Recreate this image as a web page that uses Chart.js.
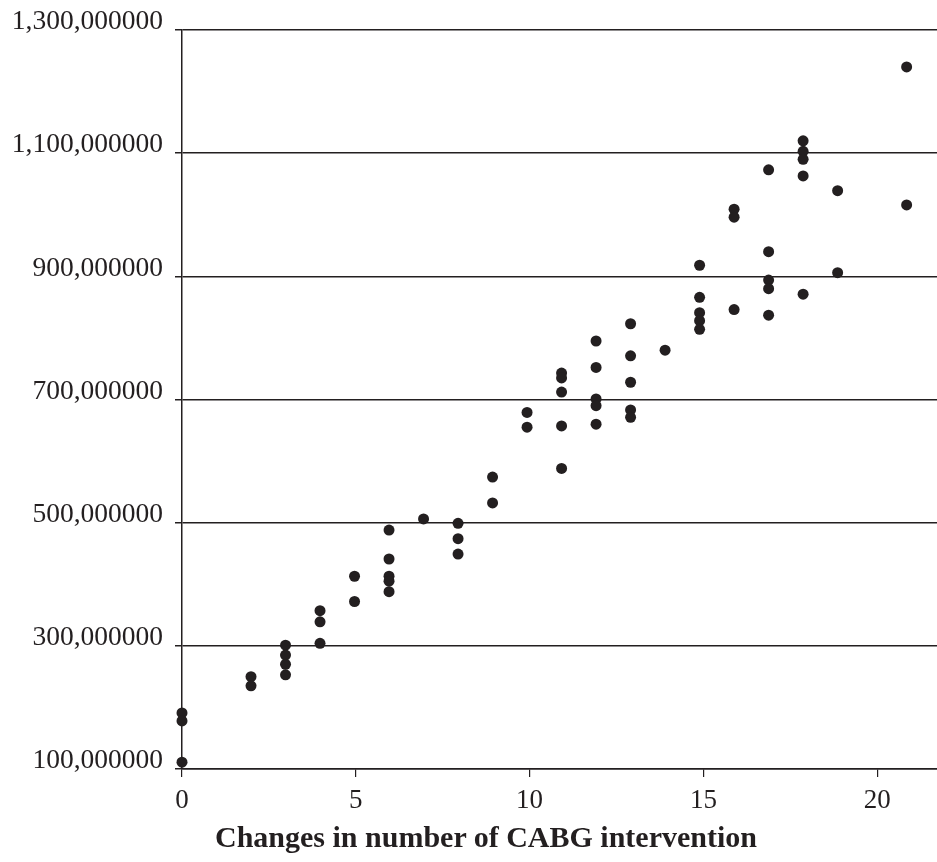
<!DOCTYPE html>
<html>
<head>
<meta charset="utf-8">
<script src="https://cdn.jsdelivr.net/npm/chart.js@4.4.0/dist/chart.umd.min.js"></script>
<style>
  html, body { margin: 0; padding: 0; background: #ffffff; overflow: hidden; }
  #wrap { position: relative; width: 937px; height: 862px; }
  #c { display: block; }
  #xtitle { position: absolute; left: 0; width: 972px; top: 820px; text-align: center;
    font-family: "Liberation Serif", "DejaVu Serif", serif; font-weight: bold; font-size: 30px; color: #231f20; white-space: nowrap; }
</style>
</head>
<body>
<div id="wrap">
  <canvas id="c" width="937" height="862"></canvas>
  <div id="xtitle">Changes in number of CABG intervention</div>
</div>
<script>
// Changes in number of CABG interventions (x) and cost (y)
const xChanges = [
  0, 0, 0,
  2, 2,
  3, 3, 3, 3,
  4, 4, 4,
  5, 5,
  6, 6, 6, 6, 6,
  7,
  8, 8, 8,
  9, 9,
  10, 10,
  11, 11, 11, 11, 11,
  12, 12, 12, 12, 12,
  13, 13, 13, 13, 13,
  14,
  15, 15, 15, 15, 15,
  16, 16, 16,
  17, 17, 17, 17, 17,
  18, 18, 18, 18, 18,
  19, 19,
  21, 21
];
const yCost = [
  191e6, 178e6, 111e6,
  250e6, 235e6,
  301e6, 285e6, 270e6, 253e6,
  357e6, 339e6, 304e6,
  413e6, 372e6,
  488e6, 441e6, 413e6, 405e6, 388e6,
  506e6,
  499e6, 474e6, 449e6,
  574e6, 532e6,
  679e6, 655e6,
  743e6, 735e6, 712e6, 657e6, 588e6,
  795e6, 752e6, 701e6, 690e6, 660e6,
  823e6, 771e6, 728e6, 683e6, 671e6,
  780e6,
  918e6, 866e6, 841e6, 828e6, 814e6,
  1009e6, 996e6, 846e6,
  1073e6, 940e6, 894e6, 880e6, 837e6,
  1120e6, 1103e6, 1090e6, 1063e6, 871e6,
  1039e6, 906e6,
  1240e6, 1016e6
];
const xTickValues = [0, 5, 10, 15, 20];
const yTickValues = [100e6, 300e6, 500e6, 700e6, 900e6, 1100e6, 1300e6];

const points = xChanges.map((x, i) => ({ x: x, y: yCost[i] }));
const ink = '#231f20';
const serif = '"Liberation Serif", "DejaVu Serif", serif';

function fmtY(v) {
  const millions = Math.round(v / 1e6);
  return millions.toLocaleString('en-US') + ',000000';
}
function zeroPad(s) {
  s.paddingLeft = 0; s.paddingRight = 0; s.paddingTop = 0; s.paddingBottom = 0;
}

new Chart(document.getElementById('c'), {
  type: 'scatter',
  data: {
    datasets: [{
      data: points,
      xAxisID: 'xp',
      backgroundColor: ink,
      borderColor: ink,
      pointRadius: 5.5,
      pointHoverRadius: 5.5,
      borderWidth: 0,
      clip: false
    }]
  },
  options: {
    responsive: false,
    animation: false,
    events: [],
    layout: { autoPadding: false, padding: { top: 30, right: 0, left: 0, bottom: 0 } },
    plugins: { legend: { display: false }, tooltip: { enabled: false } },
    scales: {
      x: {
        type: 'linear',
        position: 'bottom',
        min: 0,
        max: 21.72,
        afterBuildTicks: (s) => { s.ticks = xTickValues.map(v => ({ value: v })); },
        afterFit: (s) => { s.height = 93; zeroPad(s); },
        border: { display: true, color: ink, width: 1.5 },
        grid: { display: true, drawOnChartArea: false, drawTicks: true, tickLength: 8, color: ink, lineWidth: 1.2 },
        ticks: { color: ink, font: { family: serif, size: 27 }, padding: 8, maxRotation: 0 }
      },
      xp: {
        type: 'linear',
        position: 'bottom',
        display: false,
        min: 0,
        max: 21.88
      },
      y: {
        type: 'linear',
        min: 100e6,
        max: 1300e6,
        afterBuildTicks: (s) => { s.ticks = yTickValues.map(v => ({ value: v })); },
        afterFit: (s) => { s.width = 182; zeroPad(s); },
        border: { display: true, color: ink, width: 1.5 },
        grid: { display: true, drawOnChartArea: true, drawTicks: true, tickLength: 7, color: ink, lineWidth: 1.5 },
        ticks: { color: ink, font: { family: serif, size: 27.5 }, padding: 12, labelOffset: -8, callback: (v) => fmtY(v) }
      }
    }
  }
});
</script>
</body>
</html>
